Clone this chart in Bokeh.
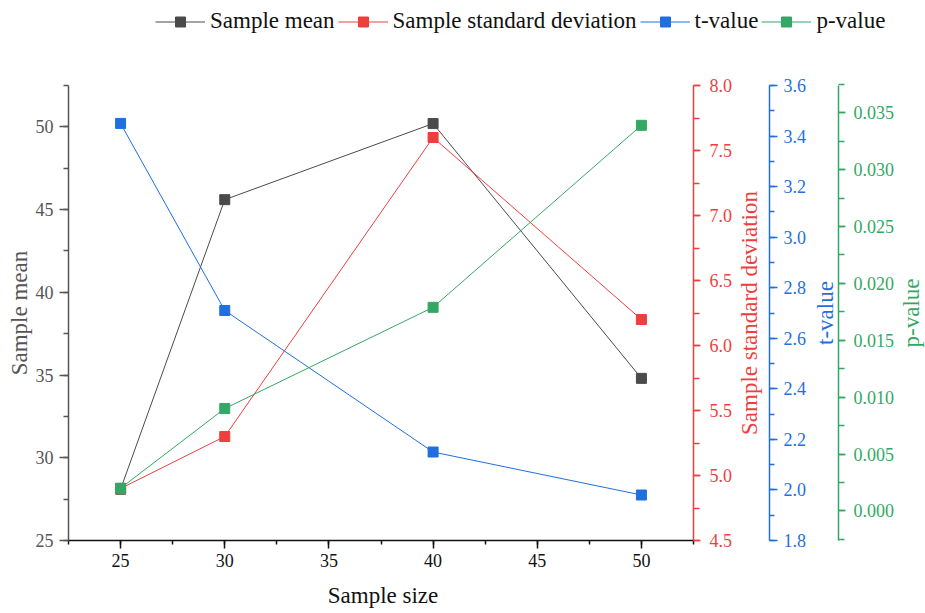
import math
from bokeh.plotting import figure
from bokeh.models import (Range1d, LinearAxis, FixedTicker, NumeralTickFormatter,
                          Legend, LegendItem, Label)
from bokeh.embed import file_html
from bokeh.resources import INLINE

sizes = [25, 30, 40, 50]
sample_mean = [28.1, 45.6, 50.2, 34.8]
sample_std = [4.9, 5.3, 7.6, 6.2]
t_value = [3.45, 2.71, 2.15, 1.98]
p_value = [0.0020, 0.0090, 0.0179, 0.0339]

series_names = ["Sample mean", "Sample standard deviation", "t-value", "p-value"]
x_title = "Sample size"

x_ticks = [25, 30, 35, 40, 45, 50]
mean_ticks = [25, 30, 35, 40, 45, 50]
std_ticks = [4.5, 5.0, 5.5, 6.0, 6.5, 7.0, 7.5, 8.0]
t_ticks = [1.8, 2.0, 2.2, 2.4, 2.6, 2.8, 3.0, 3.2, 3.4, 3.6]
p_ticks = [0.0, 0.005, 0.010, 0.015, 0.020, 0.025, 0.030, 0.035]

x_bounds = (22.5, 52.5)
mean_bounds = (25, 52.5)
std_bounds = (4.5, 8.0)
t_bounds = (1.8, 3.6)
p_bounds = (-0.0026, 0.0374)

FONT = "Liberation Serif"
C_MEAN = "#4a4a4a"
C_STD = "#ef3e3e"
C_T = "#1f6fe0"
C_P = "#33a864"

# ---- pixel geometry (canvas px) ----
CW, CH = 925, 612          # canvas size
AX_L, AX_W = 68, 625       # axes box left / width
AX_T, AX_H = 85, 455       # axes box top / height
OFF_T, OFF_P = 76, 145     # offsets of t / p axes right of the box

def xrange_for(b):
    lo, hi = b
    k = (hi - lo) / AX_W
    return Range1d(lo - AX_L * k, hi + (CW - AX_L - AX_W) * k)

def yrange_for(b):
    lo, hi = b
    k = (hi - lo) / AX_H
    return Range1d(lo - (CH - AX_T - AX_H) * k, hi + AX_T * k)

x_rng = xrange_for(x_bounds)
kx = (x_bounds[1] - x_bounds[0]) / AX_W

p = figure(width=CW, height=CH, output_backend="svg", toolbar_location=None,
           x_range=x_rng, y_range=yrange_for(mean_bounds),
           x_axis_type=None, y_axis_type=None, min_border=0)
p.outline_line_color = None
p.extra_y_ranges = {"std": yrange_for(std_bounds), "t": yrange_for(t_bounds), "p": yrange_for(p_bounds)}

def style_axis(ax, color, text_color, major_out, minor_out, lab_standoff):
    ax.axis_line_color = color
    ax.axis_line_width = 1.5
    ax.major_tick_line_color = color
    ax.minor_tick_line_color = color
    ax.major_tick_line_width = 1.5
    ax.minor_tick_line_width = 1.5
    ax.major_tick_in = 0
    ax.major_tick_out = major_out
    ax.minor_tick_in = 0
    ax.minor_tick_out = minor_out
    ax.major_label_text_font = FONT
    ax.major_label_text_font_size = "18px"
    ax.major_label_text_color = text_color
    ax.major_label_standoff = lab_standoff

xa = LinearAxis(bounds=x_bounds, fixed_location=mean_bounds[0],
                ticker=FixedTicker(ticks=x_ticks, minor_ticks=[22.5 + 2.5 * i for i in range(13)]))
style_axis(xa, "#111111", "#111111", 8, 4, 5)
p.add_layout(xa, "below")

ya = LinearAxis(bounds=mean_bounds, fixed_location=x_bounds[0],
                ticker=FixedTicker(ticks=mean_ticks, minor_ticks=[25 + 2.5 * i for i in range(12)]))
style_axis(ya, "#555555", "#555555", 9, 5, 6)
p.add_layout(ya, "left")

ax_std = LinearAxis(y_range_name="std", bounds=std_bounds, fixed_location=x_bounds[1],
                    ticker=FixedTicker(ticks=std_ticks, minor_ticks=[4.5 + 0.25 * i for i in range(15)]),
                    formatter=NumeralTickFormatter(format="0.0"))
style_axis(ax_std, C_STD, C_STD, 7, 6, 9)
p.add_layout(ax_std, "right")

ax_t = LinearAxis(y_range_name="t", bounds=t_bounds, fixed_location=x_bounds[1] + OFF_T * kx,
                  ticker=FixedTicker(ticks=t_ticks, minor_ticks=[1.8 + 0.1 * i for i in range(19)]),
                  formatter=NumeralTickFormatter(format="0.0"))
style_axis(ax_t, C_T, C_T, 8, 5, 6)
p.add_layout(ax_t, "right")

ax_p = LinearAxis(y_range_name="p", bounds=p_bounds, fixed_location=x_bounds[1] + OFF_P * kx,
                  ticker=FixedTicker(ticks=p_ticks, minor_ticks=[-0.0025 + 0.0025 * i for i in range(17)]),
                  formatter=NumeralTickFormatter(format="0.000"))
style_axis(ax_p, C_P, C_P, 7, 6, 8)
p.add_layout(ax_p, "right")

# axis titles (canvas px, y from bottom)
mid_y = CH - (AX_T + AX_H / 2)
titles = [
    ("Sample mean", 19, mid_y, math.pi / 2, "#555555"),
    ("Sample standard deviation", 749, mid_y, math.pi / 2, C_STD),
    ("t-value", 825, mid_y, math.pi / 2, C_T),
    ("p-value", 911, mid_y, math.pi / 2, C_P),
    (x_title, AX_L + AX_W / 2 + 2, CH - 595, 0, "#111111"),
]
for txt, tx, ty, ang, col in titles:
    p.add_layout(Label(x=tx, y=ty, x_units="screen", y_units="screen", text=txt, angle=ang,
                       text_align="center", text_baseline="middle", text_font=FONT,
                       text_font_size="23px", text_color=col))

l1 = p.line(sizes, sample_mean, line_color=C_MEAN, line_width=1)
s1 = p.scatter(sizes, sample_mean, marker="square", size=10, fill_color=C_MEAN, line_color=C_MEAN)
l2 = p.line(sizes, sample_std, line_color=C_STD, line_width=1, y_range_name="std")
s2 = p.scatter(sizes, sample_std, marker="square", size=10, fill_color=C_STD, line_color=C_STD, y_range_name="std")
l3 = p.line(sizes, t_value, line_color=C_T, line_width=1, y_range_name="t")
s3 = p.scatter(sizes, t_value, marker="square", size=10, fill_color=C_T, line_color=C_T, y_range_name="t")
l4 = p.line(sizes, p_value, line_color=C_P, line_width=1, y_range_name="p")
s4 = p.scatter(sizes, p_value, marker="square", size=10, fill_color=C_P, line_color=C_P, y_range_name="p")

rends = [(l1, s1), (l2, s2), (l3, s3), (l4, s4)]
legend = Legend(items=[LegendItem(label=n, renderers=list(r)) for n, r in zip(series_names, rends)],
                orientation="horizontal", location=(155, CH - 605 + 571))
legend.border_line_color = None
legend.background_fill_alpha = 0
legend.label_text_font = FONT
legend.label_text_font_size = "23px"
legend.label_text_color = "#111111"
legend.glyph_width = 50
legend.glyph_height = 25
legend.label_standoff = 5
legend.spacing = 3
legend.padding = 0
legend.margin = 0
p.add_layout(legend, "center")

open("out.html", "w").write(file_html(p, INLINE))
